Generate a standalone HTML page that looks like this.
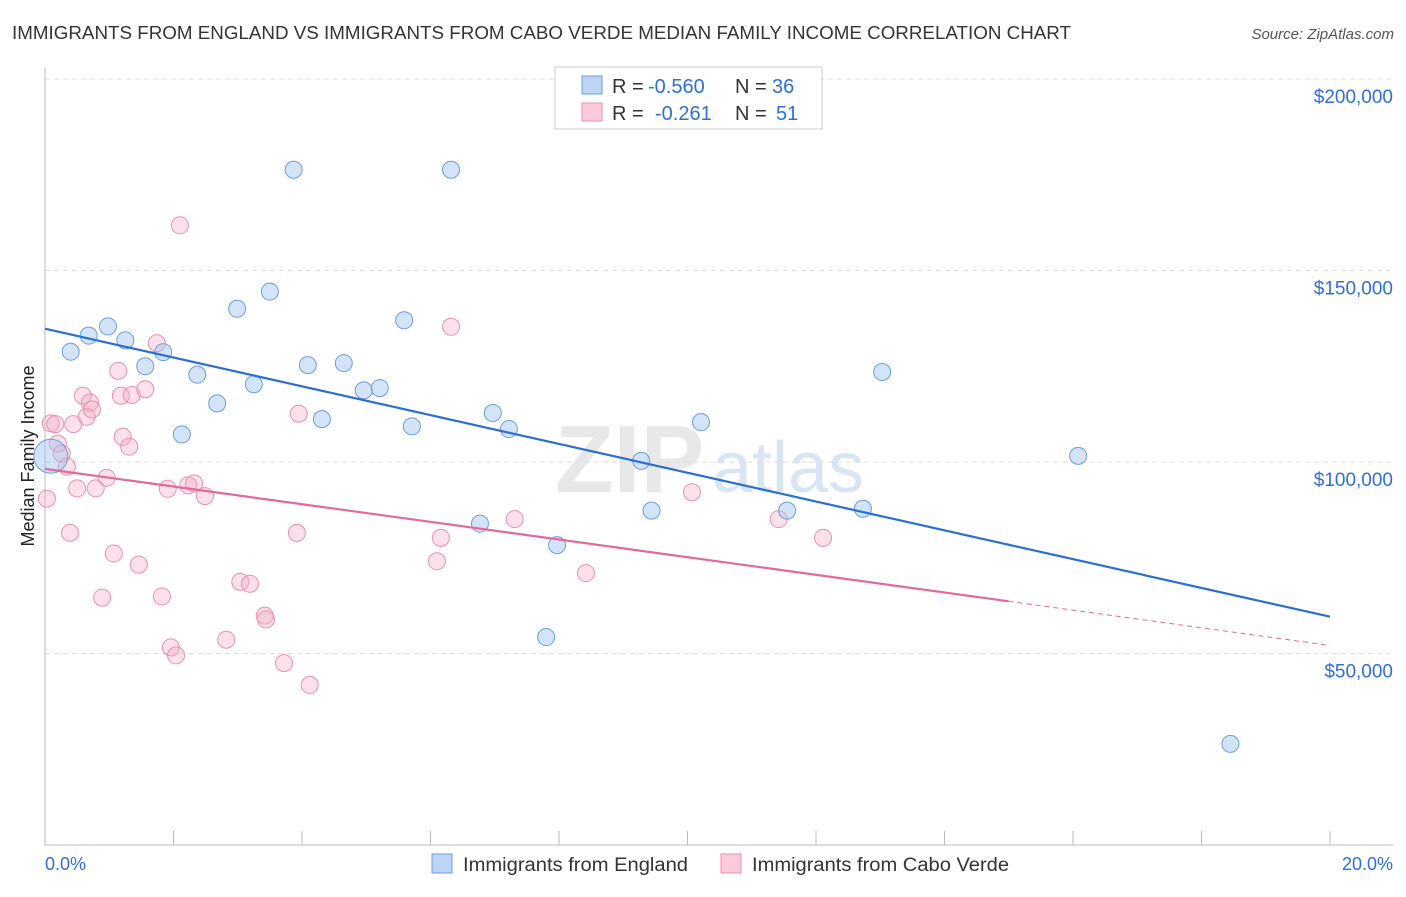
<!DOCTYPE html>
<html><head><meta charset="utf-8"><style>
body{margin:0;background:#fff;font-family:"Liberation Sans",sans-serif;}
svg text{font-family:"Liberation Sans",sans-serif;}
</style></head><body>
<svg id="c" width="1406" height="892">
<text x="12" y="39" font-size="18" fill="#333" textLength="1059" lengthAdjust="spacingAndGlyphs">IMMIGRANTS FROM ENGLAND VS IMMIGRANTS FROM CABO VERDE MEDIAN FAMILY INCOME CORRELATION CHART</text>
<text x="1394" y="39" font-size="15" fill="#555" font-style="italic" text-anchor="end">Source: ZipAtlas.com</text>
<text x="34" y="456" font-size="18" fill="#222" text-anchor="middle" transform="rotate(-90 34 456)">Median Family Income</text>
<text x="555" y="492" font-size="96" fill="#e8e8e8" font-family="Liberation Serif" font-weight="bold">ZIP</text>
<text x="712" y="492" font-size="72" fill="#d8e5f4">atlas</text>
<g id="grid"></g><g id="pts"></g><g id="lines"></g>
<g>
<rect x="555" y="67" width="267" height="62" fill="#fff" stroke="#ccc"/>
<rect x="582" y="76" width="20" height="18" fill="#bcd5f5" stroke="#6c9de0"/>
<rect x="582" y="103" width="20" height="18" fill="#fbcbd9" stroke="#ec8fb0"/>
<text x="612" y="93" font-size="20" fill="#333">R =</text>
<text x="648" y="93" font-size="20" fill="#2e6fd8">-0.560</text>
<text x="735" y="93" font-size="20" fill="#333">N =</text>
<text x="772" y="93" font-size="20" fill="#2e6fd8">36</text>
<text x="612" y="120" font-size="20" fill="#333">R =</text>
<text x="655" y="120" font-size="20" fill="#2e6fd8">-0.261</text>
<text x="735" y="120" font-size="20" fill="#333">N =</text>
<text x="776" y="120" font-size="20" fill="#2e6fd8">51</text>
</g>
<g>
<rect x="432" y="854" width="20" height="19" fill="#bcd5f5" stroke="#6c9de0"/>
<text x="463" y="871" font-size="19" fill="#333" textLength="225" lengthAdjust="spacingAndGlyphs">Immigrants from England</text>
<rect x="721" y="854" width="20" height="19" fill="#fbcbd9" stroke="#ec8fb0"/>
<text x="752" y="871" font-size="19" fill="#333" textLength="257" lengthAdjust="spacingAndGlyphs">Immigrants from Cabo Verde</text>
</g>
<text x="45" y="870" font-size="18" fill="#2e6fd8">0.0%</text>
<text x="1393" y="870" font-size="18" fill="#2e6fd8" text-anchor="end">20.0%</text>
</svg>
<script>
const yTicks=[50000,100000,150000,200000];
const yTickLabels=["$50,000","$100,000","$150,000","$200,000"];
const engX=[0.09,0.40,0.68,0.98,1.25,1.56,1.84,2.13,2.37,2.68,2.99,3.25,3.50,3.87,4.09,4.31,4.65,4.96,5.21,5.59,5.71,6.32,6.77,6.97,7.22,7.80,7.97,9.28,9.44,10.21,11.55,12.73,13.03,16.08,18.45];
const engY=[101500,128800,133000,135400,131800,125000,128700,107200,122800,115300,140000,120300,144500,176300,125300,111200,125800,118700,119300,137000,109300,176300,83900,112800,108600,54300,78300,100300,87300,110400,87300,87800,123500,101600,26400];
const cvX=[0.03,0.09,0.16,0.20,0.26,0.34,0.39,0.44,0.50,0.59,0.65,0.70,0.73,0.79,0.89,0.96,1.07,1.14,1.18,1.21,1.31,1.35,1.46,1.56,1.74,1.82,1.91,1.96,2.04,2.10,2.23,2.32,2.49,2.82,3.04,3.19,3.42,3.44,3.72,3.92,3.95,4.12,6.10,6.16,6.32,7.31,8.42,10.07,11.42,12.11];
const cvY=[90400,110100,109900,104800,102200,98800,81500,109900,93100,117300,111800,115500,113700,93100,64600,95900,76100,123800,117300,106600,104000,117500,73200,119000,131000,64900,93000,51600,49500,161800,93900,94400,91100,53600,68700,68200,59900,58900,47500,81500,112600,41800,74100,80200,135300,85100,71000,92100,85100,80200];
const engTrend=[134800,59600];
const cvTrend=[98200,52100];
const cvSolidEnd=15.0;
const NS="http://www.w3.org/2000/svg";
const X=v=>45+v/20*1285, Y=v=>845-v/100000*383;
function mk(tag,attrs,parent){const e=document.createElementNS(NS,tag);for(const k in attrs)e.setAttribute(k,attrs[k]);parent.appendChild(e);return e;}
const grid=document.getElementById('grid');
yTicks.forEach((t,i)=>{
 const l=mk('line',{x1:45,x2:1393,y1:Y(t),y2:Y(t),stroke:'#ddd','stroke-dasharray':'5,4'},grid);
 
 
 const tx=mk('text',{x:1393,y:Y(t)+24,'font-size':19,fill:'#2e6fd8','text-anchor':'end'},grid);
 tx.textContent=yTickLabels[i];
 
 
});
mk('line',{x1:45,x2:45,y1:68,y2:845,stroke:'#bbb'},grid);
mk('line',{x1:45,x2:1393,y1:845,y2:845,stroke:'#bbb'},grid);
for(let i=0;i<=10;i++){const t=mk('line',{x1:X(i*2),x2:X(i*2),y1:831,y2:845,stroke:'#bbb'},grid);
 
 }
const pts=document.getElementById('pts');
cvX.forEach((x,i)=>{const c=mk('circle',{cx:X(x),cy:Y(cvY[i]),r:8.5,fill:'rgba(246,170,195,0.35)',stroke:'#ec8fb0','stroke-width':1},pts);
 
 });
engX.forEach((x,i)=>{const c=mk('circle',{cx:X(x),cy:Y(engY[i]),r:i==0?17:8.5,fill:'rgba(160,195,240,0.45)',stroke:'#6c9de0','stroke-width':1},pts);
 
 });
const lines=document.getElementById('lines');
const el=mk('line',{x1:X(0),y1:Y(engTrend[0]),x2:X(20),y2:Y(engTrend[1]),stroke:'#2a6fd6','stroke-width':2.2},lines);


const cvAt=x=>cvTrend[0]+(cvTrend[1]-cvTrend[0])*x/20;
const cl=mk('line',{x1:X(0),y1:Y(cvAt(0)),x2:X(cvSolidEnd),y2:Y(cvAt(cvSolidEnd)),stroke:'#e4689a','stroke-width':2.2},lines);


const cd=mk('line',{x1:X(cvSolidEnd),y1:Y(cvAt(cvSolidEnd)),x2:X(20),y2:Y(cvAt(20)),stroke:'#e4689a','stroke-width':1,'stroke-dasharray':'5,4'},lines);


</script>
</body></html>
